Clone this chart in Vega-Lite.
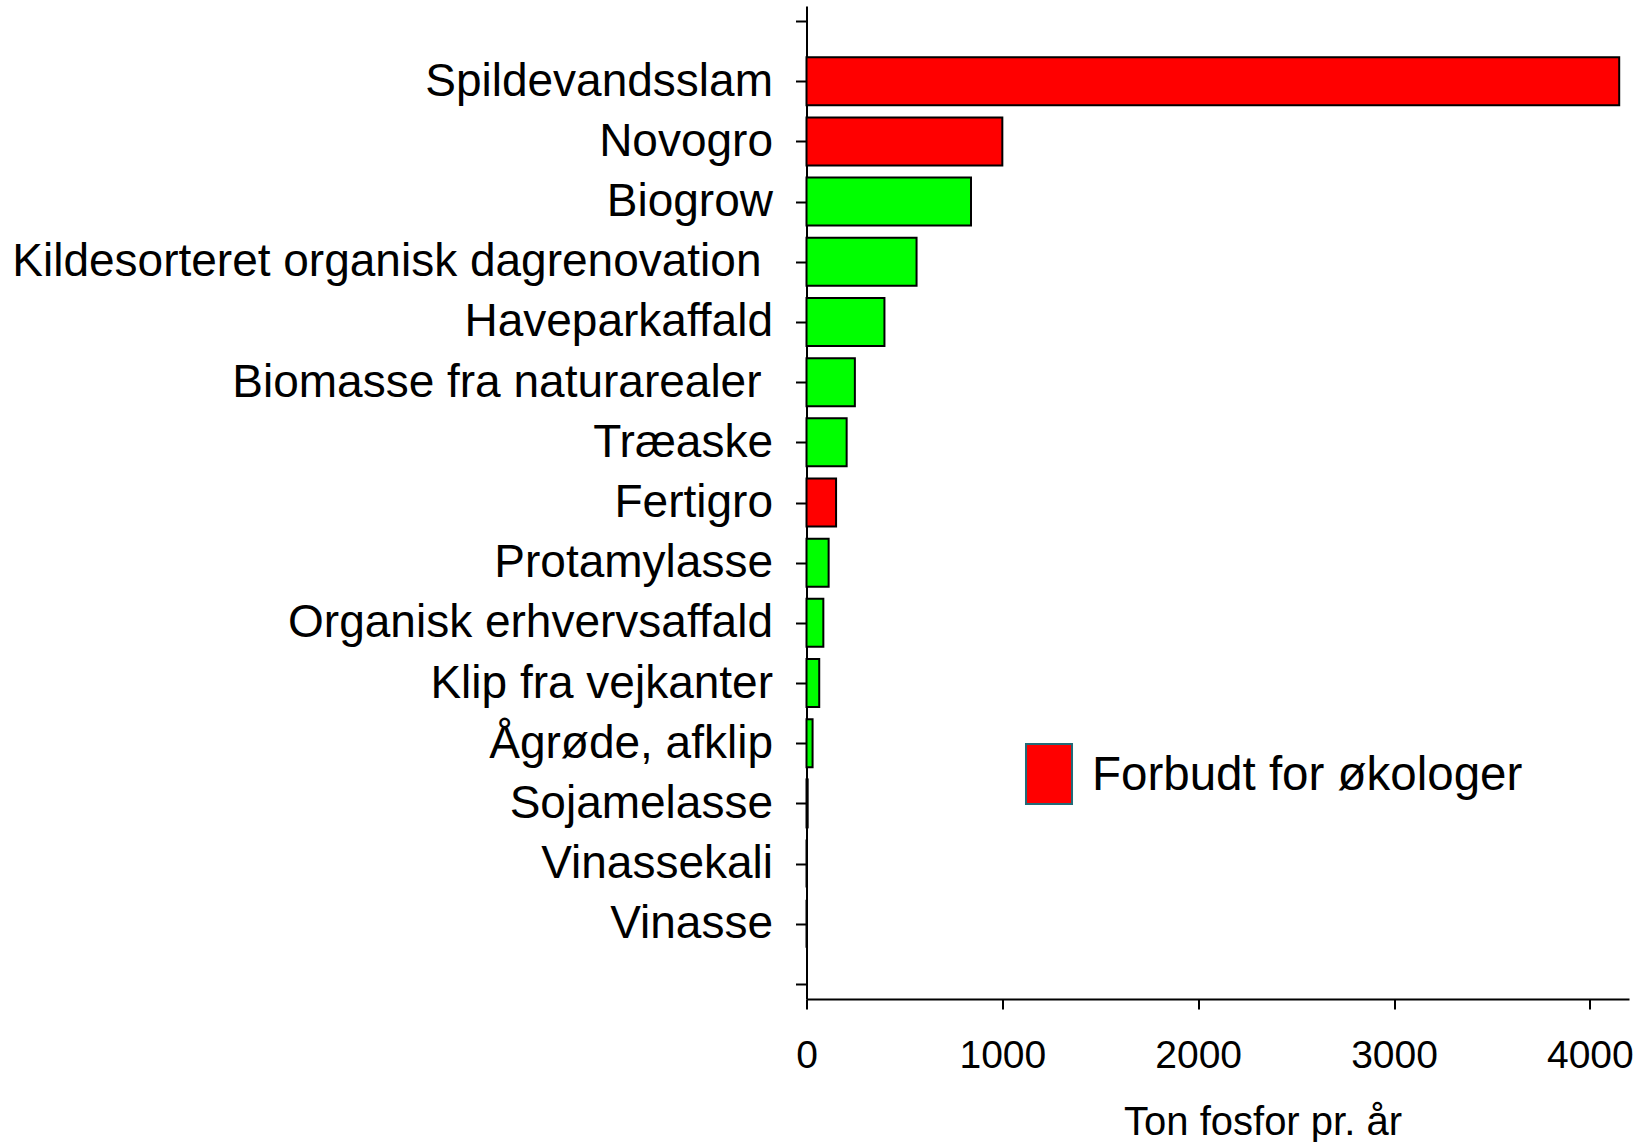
{
  "$schema": "https://vega.github.io/schema/vega-lite/v6.json",
  "autosize": {"type": "none"},
  "padding": {"left": 806.5, "top": 6, "right": 18, "bottom": 143},
  "width": 822.5,
  "height": 993,
  "background": "white",
  "config": {
    "view": {"stroke": null},
    "font": "Liberation Sans",
    "axis": {
      "domainColor": "black",
      "domainWidth": 2,
      "tickColor": "black",
      "tickWidth": 2,
      "labelColor": "black",
      "labelFont": "Liberation Sans",
      "titleFont": "Liberation Sans",
      "titleColor": "black",
      "grid": false
    }
  },
  "data": {
    "values": [
      {"kilde": "Spildevandsslam", "ton": 4150, "gruppe": "Forbudt for økologer"},
      {"kilde": "Novogro", "ton": 1000, "gruppe": "Forbudt for økologer"},
      {"kilde": "Biogrow", "ton": 840, "gruppe": "Tilladt"},
      {"kilde": "Kildesorteret organisk dagrenovation\u2005\u2060", "ton": 562, "gruppe": "Tilladt"},
      {"kilde": "Haveparkaffald", "ton": 398, "gruppe": "Tilladt"},
      {"kilde": "Biomasse fra naturarealer\u2005\u2060", "ton": 247, "gruppe": "Tilladt"},
      {"kilde": "Træaske", "ton": 205, "gruppe": "Tilladt"},
      {"kilde": "Fertigro", "ton": 151, "gruppe": "Forbudt for økologer"},
      {"kilde": "Protamylasse", "ton": 113, "gruppe": "Tilladt"},
      {"kilde": "Organisk erhvervsaffald", "ton": 86, "gruppe": "Tilladt"},
      {"kilde": "Klip fra vejkanter", "ton": 65, "gruppe": "Tilladt"},
      {"kilde": "Ågrøde, afklip", "ton": 31, "gruppe": "Tilladt"},
      {"kilde": "Sojamelasse", "ton": 6, "gruppe": "Tilladt"},
      {"kilde": "Vinassekali", "ton": 0, "gruppe": "Tilladt"},
      {"kilde": "Vinasse", "ton": 0, "gruppe": "Tilladt"}
    ]
  },
  "mark": {"type": "bar", "height": 48, "stroke": "black", "strokeWidth": 2},
  "encoding": {
    "y": {
      "field": "kilde",
      "type": "nominal",
      "sort": null,
      "scale": {
        "type": "point",
        "padding": 0.25,
        "domain": [" ", "Spildevandsslam", "Novogro", "Biogrow", "Kildesorteret organisk dagrenovation\u2005\u2060", "Haveparkaffald", "Biomasse fra naturarealer\u2005\u2060", "Træaske", "Fertigro", "Protamylasse", "Organisk erhvervsaffald", "Klip fra vejkanter", "Ågrøde, afklip", "Sojamelasse", "Vinassekali", "Vinasse", "  "]
      },
      "axis": {
        "title": null,
        "tickSize": 11,
        "labelFontSize": 46,
        "labelPadding": 23,
        "labelLimit": 1000
      }
    },
    "x": {
      "field": "ton",
      "type": "quantitative",
      "scale": {"domain": [0, 4200], "nice": false},
      "axis": {
        "values": [0, 1000, 2000, 3000, 4000],
        "format": "d",
        "tickSize": 10,
        "labelFontSize": 39,
        "labelPadding": 27,
        "labelFlush": false,
        "title": "Ton fosfor pr. år",
        "titleFontSize": 40,
        "titleFontWeight": "normal",
        "titleX": 456,
        "titleY": 135,
        "titleAlign": "center",
        "titleBaseline": "alphabetic"
      }
    },
    "color": {
      "field": "gruppe",
      "type": "nominal",
      "scale": {"domain": ["Forbudt for økologer", "Tilladt"], "range": ["#ff0000", "#00ff00"]},
      "legend": {
        "values": ["Forbudt for økologer"],
        "title": null,
        "orient": "none",
        "legendX": 211.5,
        "legendY": 737,
        "padding": 0,
        "symbolType": "M-0.767,-1L0.767,-1L0.767,1L-0.767,1Z",
        "symbolSize": 3600,
        "symbolStrokeWidth": 2,
        "symbolStrokeColor": "#236b78",
        "symbolOpacity": 1,
        "labelFontSize": 47.5,
        "labelFont": "Liberation Sans",
        "labelColor": "black",
        "labelOffset": 12,
        "labelLimit": 1000,
        "encode": {
          "symbols": {"update": {"stroke": {"value": "#236b78"}, "strokeWidth": {"value": 2}, "fill": {"value": "#ff0000"}, "opacity": {"value": 1}}},
          "labels": {"update": {"dy": {"value": 2}}}
        }
      }
    }
  }
}
